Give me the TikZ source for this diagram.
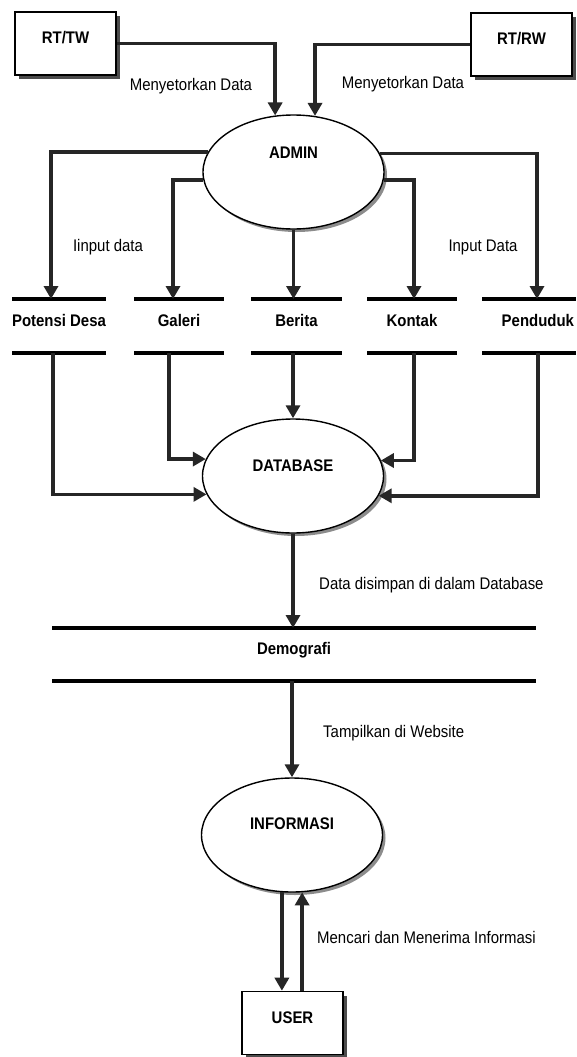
\documentclass[tikz,border=0pt]{standalone}
\usepackage{fontspec}
\setmainfont[FakeStretch=0.89]{Liberation Sans}
\usetikzlibrary{arrows.meta,shapes.geometric,shadows}
\begin{document}
\begin{tikzpicture}[x=1pt,y=-1pt,
  txt/.style={font=\fontsize{16.8}{20}\selectfont, inner sep=1pt},
  boldtxt/.style={font=\fontsize{16.8}{20}\selectfont\bfseries},
  ext/.style={rectangle, draw, line width=1.6pt, fill=white, minimum width=101pt, minimum height=63pt,
    inner sep=0pt, text height=8pt, text depth=8pt, boldtxt,
    drop shadow={shadow xshift=4pt, shadow yshift=-4pt, fill=black!70, opacity=1}},
  proc/.style={ellipse, draw, line width=1.4pt, fill=white, minimum width=181pt, minimum height=114pt,
    inner sep=0pt, boldtxt,
    drop shadow={shadow xshift=3pt, shadow yshift=-3pt, fill=black!45, opacity=1}},
  store/.style={rectangle, minimum width=90pt, minimum height=54pt, inner sep=0pt, outer sep=0pt,
    text height=8pt, text depth=8pt, boldtxt},
  storeline/.style={line width=4pt, black},
  flow/.style={line width=3.5pt, black!85, -{Triangle[width=14pt,length=13pt]}}
]
\useasboundingbox (0,0) rectangle (576,1057);
\fill[white] (0,0) rectangle (576,1057);

% external entities and processes
\node[ext] (rttw) at (65.5,43.5) {RT/TW};
\node[ext] (rtrw) at (521.5,44.5) {RT/RW};
\node[proc, text height=10pt, text depth=37pt] (admin) at (293.5,172) {ADMIN};

% data stores
\node[store] (pot) at (59,326) {Potensi Desa};
\node[store] (gal) at (179,326) {Galeri};
\node[store, minimum width=91pt] (ber) at (296.5,326) {Berita};
\node[store] (kon) at (412,326) {Kontak};
\node[store, text width=90pt, align=right, inner xsep=2pt] (pen) at (529,326) {Penduduk};

\node[proc, text height=10pt, text depth=19pt] (db) at (293,476) {DATABASE};
\node[store, minimum width=484pt, minimum height=53pt] (dem) at (294,654.5) {Demografi};
\node[proc, text height=10pt, text depth=21pt] (info) at (292,835) {INFORMASI};
\node[ext] (user) at (292.5,1023) {USER};

\foreach \n in {pot,gal,ber,kon,pen,dem}
  \draw[storeline] (\n.north west) -- (\n.north east) (\n.south west) -- (\n.south east);

% flows into ADMIN
\draw[flow] (rttw.east) -| (admin.108.3);
\draw[flow] (rtrw.west) -| (admin.69.7);

% flows from ADMIN to stores
\draw[flow] (admin.167.4) -| ([xshift=-8pt]pot.north);
\draw[flow] (admin.185.8) -| ([xshift=-6pt]gal.north);
\draw[flow] (admin.south) -- (admin.south |- ber.north);
\draw[flow] (admin.355.5) -| ([xshift=2pt]kon.north);
\draw[flow] (admin.12.6) -| ([xshift=8pt]pen.north);

% flows from stores to DATABASE
\draw[flow] ([xshift=-6pt]pot.south) |- (db.192.5);
\draw[flow] ([xshift=-10pt]gal.south) |- (db.169.6);
\draw[flow] (ber.south -| db.north) -- (db.north);
\draw[flow] ([xshift=2pt]kon.south) |- (db.10.4);
\draw[flow] ([xshift=9pt]pen.south) |- (db.347.5);

% lower chain
\draw[flow] (db.south) -- (db.south |- dem.north);
\draw[flow] (dem.south -| info.north) -- (info.north);
\draw[flow] (info.260) -- (info.260 |- user.north);
\draw[flow] (user.north -| info.280) -- (info.280);

% labels
\node[txt] (l1) at (191,86) {Menyetorkan Data};
\node[txt] (l2) at (403,84) {Menyetorkan Data};
\node[txt] (l3) at (108,247) {Iinput data};
\node[txt] (l4) at (483,247) {Input Data};
\node[txt, anchor=west] (l5) at (318,585) {Data disimpan di dalam Database};
\node[txt, anchor=west] (l6) at (322,733) {Tampilkan di Website};
\node[txt, anchor=west] (l7) at (316,937) {Mencari dan Menerima Informasi};
\end{tikzpicture}
\end{document}
